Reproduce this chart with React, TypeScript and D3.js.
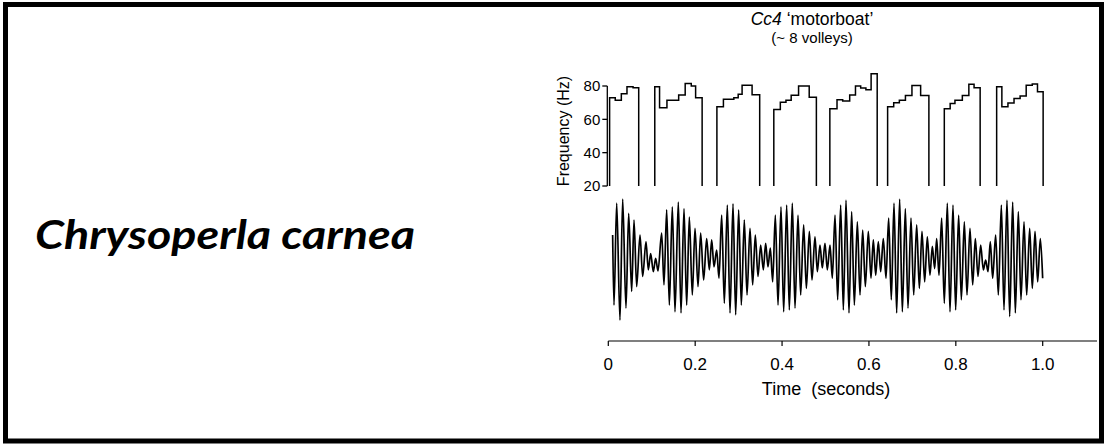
import React from 'react';
import * as d3 from 'd3';

const W = 1109;
const H = 445;

// Axis ticks
const freqTicks = [20, 40, 60, 80];
const timeTicks = [0, 0.2, 0.4, 0.6, 0.8, 1.0];
const timeTickLabels = ['0', '0.2', '0.4', '0.6', '0.8', '1.0'];
const timeAxisMax = 1.125;

// Frequency volleys: step starts [time (s), frequency (Hz)]
const volley1 = [[0.003, 73], [0.016, 71.5], [0.030, 75.3], [0.043, 79.5], [0.057, 79]];
const volley2 = [[0.107, 79.5], [0.118, 66.9], [0.135, 71.5], [0.162, 74.6], [0.177, 81.5], [0.191, 80], [0.201, 73]];
const volley3 = [[0.250, 67.5], [0.265, 72], [0.289, 73], [0.299, 75], [0.308, 80.5], [0.331, 74.7]];
const volley4 = [[0.381, 65.9], [0.396, 70.3], [0.409, 71.5], [0.421, 74.5], [0.438, 80], [0.4625, 73.3]];
const volley5 = [[0.510, 66.3], [0.5265, 71.8], [0.5396, 71], [0.5557, 74.6], [0.569, 80], [0.581, 78.8], [0.593, 77.8], [0.605, 87.3]];
const volley6 = [[0.643, 67.5], [0.657, 70], [0.670, 71.5], [0.684, 74.3], [0.699, 80.3], [0.719, 74.3]];
const volley7 = [[0.7735, 66.3], [0.787, 69.5], [0.798, 71.5], [0.815, 74.3], [0.830, 81], [0.842, 79]];
const volley8 = [[0.894, 79.5], [0.906, 67.5], [0.920, 69.8], [0.934, 72.5], [0.948, 74], [0.962, 80.5], [0.976, 81.2], [0.988, 76.5]];
const volleys = [volley1, volley2, volley3, volley4, volley5, volley6, volley7, volley8];
const volleyEnds = [0.070, 0.216, 0.3485, 0.479, 0.619, 0.738, 0.856, 1.001];

// Waveform extrema: times (s) and relative amplitudes
const waveT = [
  0.0100, 0.0131, 0.0193, 0.0269, 0.0331, 0.0407, 0.0469, 0.0538, 0.0592, 0.0653, 0.0730, 0.0791, 0.0868, 0.0921, 0.0975, 0.1037, 0.1090, 0.1144,
  0.1229, 0.1282, 0.1344, 0.1405, 0.1474, 0.1535, 0.1612, 0.1674, 0.1743, 0.1804, 0.1865, 0.1934, 0.1996, 0.2065, 0.2126, 0.2195, 0.2264, 0.2326, 0.2380, 0.2433,
  0.2495, 0.2548, 0.2610, 0.2671, 0.2740, 0.2802, 0.2871, 0.2932, 0.3001, 0.3062, 0.3131, 0.3193, 0.3262, 0.3323, 0.3384, 0.3446, 0.3507, 0.3569, 0.3622, 0.3676, 0.3730,
  0.3784, 0.3845, 0.3907, 0.3976, 0.4037, 0.4106, 0.4167, 0.4236, 0.4298, 0.4367, 0.4428, 0.4497, 0.4559, 0.4628, 0.4689, 0.4758, 0.4812, 0.4873, 0.4927,
  0.4988, 0.5042, 0.5104, 0.5157, 0.5219, 0.5280, 0.5349, 0.5411, 0.5472, 0.5541, 0.5602, 0.5664, 0.5733, 0.5794, 0.5856, 0.5917, 0.5986, 0.6047, 0.6101, 0.6155, 0.6216, 0.6270,
  0.6331, 0.6393, 0.6454, 0.6515, 0.6577, 0.6638, 0.6707, 0.6769, 0.6838, 0.6899, 0.6968, 0.7030, 0.7099, 0.7160, 0.7221, 0.7283, 0.7344, 0.7405, 0.7459, 0.7513, 0.7559,
  0.7613, 0.7674, 0.7735, 0.7804, 0.7866, 0.7935, 0.7996, 0.8065, 0.8127, 0.8196, 0.8257, 0.8326, 0.8388, 0.8449, 0.8510, 0.8572, 0.8633, 0.8687, 0.8741, 0.8794,
  0.8848, 0.8917, 0.8979, 0.9048, 0.9109, 0.9178, 0.9240, 0.9309, 0.9370, 0.9439, 0.9500, 0.9570, 0.9631, 0.9700, 0.9761, 0.9823, 0.9884, 0.9945, 0.9999,
];
const waveV = [
  0.5, -0.67, 1.03, -0.92, 1.1, -0.72, 0.86, -0.44, 0.75, -0.36, 0.5, -0.19, 0.39, -0.08, 0.19, -0.11, 0.11, -0.1,
  0.53, -0.33, 0.92, -0.67, 0.97, -0.78, 1.05, -0.8, 0.94, -0.67, 0.8, -0.5, 0.61, -0.36, 0.53, -0.25, 0.44, -0.08, 0.42, -0.03,
  0.25, -0.22, 0.83, -0.64, 1.0, -0.8, 1.02, -0.83, 0.92, -0.67, 0.75, -0.5, 0.61, -0.33, 0.5, -0.19, 0.33, -0.08, 0.36, -0.03, 0.28,
  -0.28, 0.83, -0.67, 0.97, -0.78, 1.0, -0.75, 1.03, -0.72, 0.83, -0.5, 0.67, -0.39, 0.56, -0.25, 0.47, -0.11, 0.33, -0.05,
  0.36, -0.08, 0.33, -0.22, 0.83, -0.58, 1.0, -0.75, 1.08, -0.8, 0.89, -0.67, 0.72, -0.5, 0.58, -0.36, 0.56, -0.22, 0.42, -0.17, 0.39, -0.11,
  0.44, -0.22, 0.78, -0.58, 1.03, -0.8, 1.1, -0.78, 0.94, -0.72, 0.78, -0.5, 0.67, -0.39, 0.56, -0.28, 0.47, -0.17, 0.31, -0.06, 0.44,
  -0.17, 0.78, -0.64, 1.03, -0.78, 1.0, -0.75, 0.83, -0.58, 0.72, -0.5, 0.61, -0.33, 0.44, -0.19, 0.33, -0.08, 0.08, -0.11, 0.39,
  -0.22, 0.5, -0.5, 1.0, -0.75, 1.08, -0.86, 1.05, -0.8, 0.89, -0.58, 0.72, -0.5, 0.61, -0.39, 0.56, -0.28, 0.44, -0.22,
];

const SANS = '"Liberation Sans", Arial, Helvetica, sans-serif';

export default function App() {
  const x = d3.scaleLinear().domain([0, 1]).range([608.3, 1042.7]);
  const yF = d3.scaleLinear().domain([20, 80]).range([186, 86]);
  const yW = d3.scaleLinear().domain([-1, 1]).range([325, 205]);

  const stepLine = d3
    .line<number[]>()
    .x((d) => x(d[0]))
    .y((d) => yF(d[1]))
    .curve(d3.curveStepAfter);

  const volleyPaths = volleys.map((steps, i) => {
    const last = steps[steps.length - 1];
    const pts = [[steps[0][0], 20], ...steps, [volleyEnds[i], last[1]], [volleyEnds[i], 20]];
    return stepLine(pts) || '';
  });

  const wavePts = waveT.map((t, i) => [t, waveV[i]]);
  const wavePath =
    d3
      .line<number[]>()
      .x((d) => x(d[0]))
      .y((d) => yW(d[1]))
      .curve(d3.curveMonotoneX)(wavePts) || '';

  const axisY = 341;
  const yAxisX = x(0) - 1;

  return (
    <div style={{ position: 'absolute', left: 0, top: 0 }}>
      <svg width={W} height={H} viewBox={`0 0 ${W} ${H}`} style={{ display: 'block', background: '#fff' }}>
        <rect x={0} y={0} width={W} height={H} fill="#fff" />
        {/* frame */}
        <rect x={5.5} y={4.5} width={1096} height={436.5} fill="none" stroke="#000" strokeWidth={5} />

        {/* species name */}
        <text
          x={35}
          y={249}
          fontFamily="Lato, 'Open Sans', sans-serif"
          fontWeight={700}
          fontStyle="italic"
          fontSize={40}
          textLength={380}
          lengthAdjust="spacingAndGlyphs"
          fill="#000"
        >
          Chrysoperla carnea
        </text>

        {/* title */}
        <text x={812} y={25} textAnchor="middle" fontFamily={SANS} fontSize={17.5} fill="#000">
          <tspan fontStyle="italic">Cc4</tspan>
          <tspan> ‘motorboat’</tspan>
        </text>
        <text x={812} y={43} textAnchor="middle" fontFamily={SANS} fontSize={15} fill="#000">
          (~ 8 volleys)
        </text>

        {/* frequency y axis */}
        <line x1={yAxisX} x2={yAxisX} y1={yF(80)} y2={yF(20)} stroke="#000" strokeWidth={1.3} />
        {freqTicks.map((f) => (
          <g key={f}>
            <line x1={yAxisX - 5} x2={yAxisX} y1={yF(f)} y2={yF(f)} stroke="#000" strokeWidth={1.3} />
            <text
              x={yAxisX - 7}
              y={yF(f)}
              dy="0.36em"
              textAnchor="end"
              fontFamily={SANS}
              fontSize={15}
              fill="#000"
            >
              {f}
            </text>
          </g>
        ))}
        <text
          transform={`translate(569, 131) rotate(-90)`}
          textAnchor="middle"
          fontFamily={SANS}
          fontSize={16}
          fill="#000"
        >
          Frequency (Hz)
        </text>

        {/* volleys */}
        {volleyPaths.map((p, i) => (
          <path key={i} d={p} fill="none" stroke="#000" strokeWidth={1.5} strokeLinejoin="miter" />
        ))}

        {/* waveform */}
        <path d={wavePath} fill="none" stroke="#000" strokeWidth={1.7} strokeLinejoin="round" />

        {/* time axis */}
        <line x1={x(0)} x2={x(timeAxisMax)} y1={axisY} y2={axisY} stroke="#000" strokeWidth={1.2} />
        {timeTicks.map((t, i) => (
          <g key={t}>
            <line x1={x(t)} x2={x(t)} y1={axisY} y2={axisY + 5} stroke="#000" strokeWidth={1.2} />
            <text x={x(t)} y={370} textAnchor="middle" fontFamily={SANS} fontSize={17} fill="#000">
              {timeTickLabels[i]}
            </text>
          </g>
        ))}
        <text x={826} y={395} textAnchor="middle" fontFamily={SANS} fontSize={18} fill="#000" xmlSpace="preserve">
          Time  (seconds)
        </text>
      </svg>
    </div>
  );
}
